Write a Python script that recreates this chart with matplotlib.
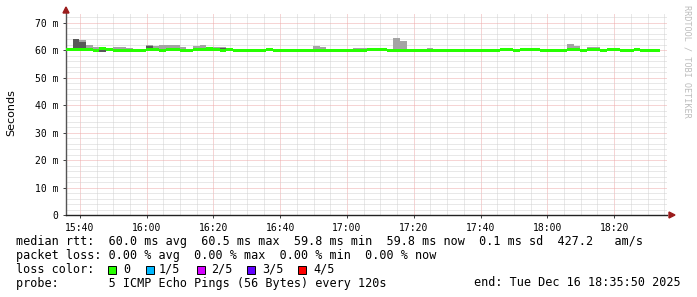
import numpy as np
import matplotlib
matplotlib.use('Agg')
import matplotlib.pyplot as plt
from matplotlib.patches import Rectangle, Polygon

# one step every 120 s, first step at 15:35:50 (minutes after 15:00)
t_start = 35 + 50/60
step_min = 2.0

median = [
    60.3, 60.3, 60.2, 60.2, 60.0, 60.5, 60.2, 59.9, 59.9, 59.9,
    59.8, 59.9, 60.2, 60.1, 60.0, 60.1, 60.1, 60.0, 59.8, 60.1,
    60.1, 60.4, 60.1, 60.0, 60.1, 59.9, 59.9, 60.0, 59.8, 59.8,
    60.1, 60.0, 60.0, 60.0, 59.8, 60.0, 60.0, 60.0, 60.0, 59.8,
    59.9, 60.0, 60.0, 60.0, 59.8, 60.1, 60.1, 60.1, 60.0, 60.0,
    60.0, 60.0, 60.0, 60.0, 60.0, 60.0, 59.9, 59.9, 59.9, 60.0,
    60.0, 60.0, 60.0, 60.0, 59.8, 60.1, 60.1, 59.9, 60.1, 60.1,
    60.1, 59.9, 60.0, 59.9, 59.9, 60.1, 60.1, 60.0, 60.1, 60.1,
    60.0, 60.1, 60.1, 60.0, 60.0, 60.1, 60.0, 60.0, 59.8]

# highest ping of each step
ping_max = [
    60.5, 64.1, 63.8, 61.9, 61.2, 60.6, 60.3, 61.0, 61.0, 60.7,
    59.9, 60.0, 62.0, 61.5, 61.8, 61.9, 61.9, 61.3, 59.9, 61.5,
    62.0, 61.3, 61.3, 61.0, 60.2, 60.0, 60.0, 60.1, 59.9, 59.9,
    60.3, 60.1, 60.1, 60.1, 59.9, 60.1, 60.1, 61.6, 61.3, 59.9,
    60.0, 60.1, 60.1, 60.8, 60.6, 60.9, 60.9, 60.2, 60.1, 64.4,
    63.3, 60.1, 60.1, 60.1, 60.9, 60.1, 60.0, 60.0, 60.0, 60.1,
    60.1, 60.1, 60.1, 60.1, 59.9, 60.2, 60.2, 60.0, 60.2, 60.2,
    60.2, 60.0, 60.1, 60.0, 60.0, 62.3, 61.6, 60.1, 61.3, 61.3,
    60.1, 60.2, 60.2, 60.1, 60.1, 60.2, 60.1, 60.1, 59.9]

# second highest ping (inner, darker smoke)
ping_hi = [
    60.3, 64.0, 62.9, 60.2, 60.0, 60.5, 60.2, 59.9, 59.9, 59.9,
    59.8, 59.9, 61.5, 60.9, 60.0, 60.1, 60.1, 60.0, 59.8, 60.1,
    60.1, 60.4, 60.1, 60.8, 60.1, 59.9, 59.9, 60.0, 59.8, 59.8,
    60.1, 60.0, 60.0, 60.0, 59.8, 60.0, 60.0, 60.0, 60.0, 59.8,
    59.9, 60.0, 60.0, 60.0, 59.8, 60.1, 60.1, 60.1, 60.0, 60.0,
    60.0, 60.0, 60.0, 60.0, 60.0, 60.0, 59.9, 59.9, 59.9, 60.0,
    60.0, 60.0, 60.0, 60.0, 59.8, 60.1, 60.1, 59.9, 60.1, 60.1,
    60.1, 59.9, 60.0, 59.9, 59.9, 60.1, 60.1, 60.0, 60.1, 60.1,
    60.0, 60.1, 60.1, 60.0, 60.0, 60.1, 60.0, 60.0, 59.8]

# lowest ping of each step
ping_min = [
    60.2, 60.2, 60.1, 60.1, 59.9, 59.4, 60.1, 59.8, 59.8, 59.8,
    59.7, 59.8, 60.1, 60.0, 59.9, 60.0, 60.0, 59.9, 59.7, 60.0,
    60.0, 60.3, 60.0, 59.9, 60.0, 59.8, 59.8, 59.9, 59.7, 59.7,
    60.0, 59.9, 59.9, 59.9, 59.7, 59.9, 59.9, 59.9, 59.9, 59.7,
    59.8, 59.9, 59.9, 59.9, 59.7, 60.0, 60.0, 60.0, 59.9, 59.9,
    59.9, 59.9, 59.9, 59.9, 59.9, 59.9, 59.8, 59.8, 59.8, 59.9,
    59.9, 59.9, 59.9, 59.9, 59.7, 60.0, 60.0, 59.8, 60.0, 60.0,
    60.0, 59.8, 59.9, 59.8, 59.8, 60.0, 60.0, 59.9, 60.0, 60.0,
    59.9, 60.0, 60.0, 59.9, 59.9, 60.0, 59.9, 59.9, 59.7]

xtick_pos = [40, 60, 80, 100, 120, 140, 160, 180, 200]
xtick_labels = ['15:40', '16:00', '16:20', '16:40', '17:00', '17:20',
                '17:40', '18:00', '18:20']
ytick_pos = [0, 10, 20, 30, 40, 50, 60, 70]
ytick_labels = ['0', '10 m', '20 m', '30 m', '40 m', '50 m', '60 m', '70 m']

loss_labels = ['0', '1/5', '2/5', '3/5', '4/5']
loss_colors = ['#26ff00', '#00b8ff', '#d400ff', '#6200ff', '#ff0000']

W, H = 697, 297


def fx(px):
    return px / W


def fy(py):
    return 1 - py / H


fig = plt.figure(figsize=(W/100, H/100), dpi=100)
ax = fig.add_axes([fx(66), fy(215), fx(667) - fx(66), fy(13) - fy(215)])

edges = t_start + step_min*np.arange(len(median) + 1)
med = np.array(median)
ax.stairs(ping_max, edges, baseline=ping_min, fill=True, color='#a4a4a4',
          lw=0, zorder=3)
ax.stairs(ping_hi, edges, baseline=ping_min, fill=True, color='#585858',
          lw=0, zorder=4)
ax.stairs(med + 0.55, edges, baseline=med - 0.55, fill=True,
          color=loss_colors[0], lw=0, zorder=5)

ax.set_xlim(t_start, t_start + 180)
ax.set_ylim(0, 73.5)

ax.set_xticks(xtick_pos)
ax.set_xticklabels(xtick_labels)
ax.set_xticks([m for m in np.arange(40, 216, 5) if m not in xtick_pos],
              minor=True)
ax.set_yticks(ytick_pos)
ax.set_yticklabels(ytick_labels)
ax.set_yticks([v for v in range(2, 73, 2) if v % 10], minor=True)

ax.grid(which='minor', color='#d2d2d2', linestyle=(0, (1, 1)),
        linewidth=0.72)
ax.grid(which='major', color='#eeaaaa', linestyle=(0, (1, 1)),
        linewidth=0.72)
ax.set_axisbelow(True)

for s in ('top', 'right'):
    ax.spines[s].set_visible(False)
ax.spines['left'].set_color('#555555')
ax.spines['bottom'].set_color('#222222')
ax.spines['left'].set_linewidth(1.0)
ax.spines['bottom'].set_linewidth(1.0)
ax.spines['left'].set_bounds(0, 74.5)

ax.tick_params(which='major', length=2.5, width=0.72, color='#444444',
               labelsize=7, pad=3)
ax.tick_params(which='minor', length=0)
for lab in ax.get_xticklabels() + ax.get_yticklabels():
    lab.set_family('DejaVu Sans Mono')

# axis arrows
arrow_c = '#9b1c1c'
fig.add_artist(Polygon([(fx(66), fy(7)), (fx(63), fy(13)), (fx(69), fy(13))],
                       closed=True, color=arrow_c))
fig.add_artist(Polygon([(fx(675), fy(215)), (fx(669), fy(212)),
                        (fx(669), fy(218))], closed=True, color=arrow_c))

fig.text(fx(11), fy(113), 'Seconds', rotation=90, ha='center', va='center',
         fontsize=8, family='DejaVu Sans')
fig.text(fx(687), fy(5), 'RRDTOOL / TOBI OETIKER', rotation=270, ha='center',
         va='top', fontsize=6.1, family='DejaVu Sans Mono', color='#bcbcbc')

mono = dict(fontsize=8.5, family='DejaVu Sans Mono', va='center', ha='left')
fig.text(fx(16), fy(241.5),
         'median rtt:  60.0 ms avg  60.5 ms max  59.8 ms min  59.8 ms now'
         '  0.1 ms sd  427.2   am/s', **mono)
fig.text(fx(16), fy(255.5),
         'packet loss: 0.00 % avg  0.00 % max  0.00 % min  0.00 % now', **mono)
fig.text(fx(16), fy(269.5), 'loss color:', **mono)
sq_x = [108, 146, 197, 247, 298]
lab_x = [123, 159, 211, 262, 313]
for sx, lx, lab, col in zip(sq_x, lab_x, loss_labels, loss_colors):
    fig.add_artist(Rectangle((fx(sx), fy(273.5)), fx(8), 8/H,
                             facecolor=col, edgecolor='black', lw=0.7))
    fig.text(fx(lx), fy(269.5), lab, **mono)
fig.text(fx(16), fy(283), 'probe:       5 ICMP Echo Pings (56 Bytes) every 120s',
         **mono)
fig.text(fx(681), fy(283), 'end: Tue Dec 16 18:35:50 2025',
         **{**mono, 'ha': 'right'})

fig.savefig('out.png', dpi=100)
